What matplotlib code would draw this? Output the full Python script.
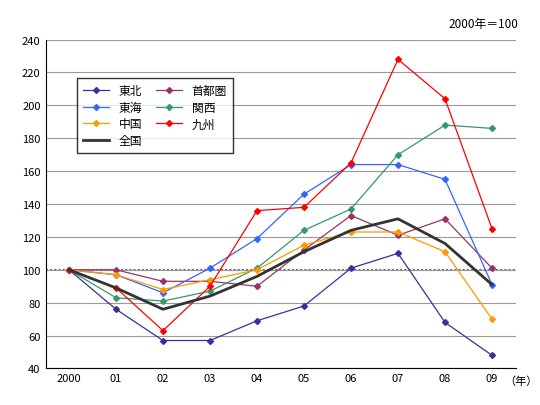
import matplotlib
matplotlib.use("Agg")
import matplotlib.pyplot as plt

plt.rcParams['font.family'] = ['Noto Sans CJK JP', 'DejaVu Sans']

years = ["2000", "01", "02", "03", "04", "05", "06", "07", "08", "09"]
tohoku = [100, 76, 57, 57, 69, 78, 101, 110, 68, 48]
shutoken = [100, 100, 93, 93, 90, 112, 133, 121, 131, 101]
tokai = [100, 97, 86, 101, 119, 146, 164, 164, 155, 91]
kansai = [100, 83, 81, 87, 101, 124, 137, 170, 188, 186]
chugoku = [100, 97, 88, 94, 100, 115, 123, 123, 111, 70]
kyushu = [100, 89, 63, 90, 136, 138, 165, 228, 204, 125]
zenkoku = [100, 89, 76, 84, 96, 111, 124, 131, 116, 91]

fig = plt.figure(figsize=(5.4, 4.06), dpi=100)
ax = fig.add_axes([45.5 / 540, 0.09, 470 / 540, 0.81])
x = list(range(len(years)))

series = [
    ("東北", tohoku, "#333399"),
    ("首都圏", shutoken, "#993366"),
    ("東海", tokai, "#3366ff"),
    ("関西", kansai, "#339966"),
    ("中国", chugoku, "#ff9900"),
    ("九州", kyushu, "#ff0000"),
]
h = {}
for name, vals, c in series:
    h[name], = ax.plot(x, vals, color=c, lw=0.9, marker="D", ms=3, label=name)
h["全国"], = ax.plot(x, zenkoku, color="#333333", lw=2, label="全国")

ax.axhline(100, color="#666666", lw=1.5, ls=(0, (1, 1)), zorder=0.5)
ax.set_ylim(40, 240)
ax.set_yticks(range(40, 241, 20))
ax.set_xlim(-0.5, 9.5)
ax.set_xticks(x)
ax.set_xticklabels(years)
ax.yaxis.grid(True, color="#999999", lw=0.8)
ax.set_axisbelow(True)
ax.tick_params(labelsize=8, length=0)
for s in ["top", "right"]:
    ax.spines[s].set_visible(False)

order = ["東北", "東海", "中国", "全国", "首都圏", "関西", "九州"]
ax.legend([h[k] for k in order], order, loc="upper left", bbox_to_anchor=(0.055, 0.9),
          ncol=2, fontsize=8.5, frameon=True, fancybox=False, edgecolor="black",
          handlelength=2.2, columnspacing=1.2, borderpad=0.5, labelspacing=0.3)
fig.text(0.96, 0.94, "2000年＝100", ha="right", va="center", fontsize=8.5)
fig.text(0.995, 0.06, "（年）", ha="right", va="center", fontsize=8)

fig.savefig("out.png")
